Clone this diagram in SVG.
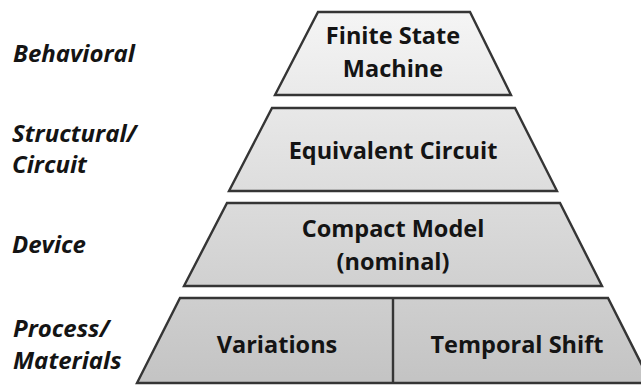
<svg xmlns="http://www.w3.org/2000/svg" width="641" height="386" viewBox="0 0 641 386">
  <defs>
    <linearGradient id="tierFill" gradientUnits="userSpaceOnUse" x1="0" y1="10" x2="0" y2="386">
      <stop offset="0" stop-color="#f5f5f5"/>
      <stop offset="1" stop-color="#c3c3c3"/>
    </linearGradient>
  </defs>
  <style>
    .tier { fill: url(#tierFill); stroke: #353535; stroke-width: 2.4; stroke-linejoin: miter; }
    .divider { stroke: #353535; stroke-width: 2.4; }
    .label { font-family: "Open Sans", "Liberation Sans", sans-serif; font-weight: bold; font-size: 23.5px; fill: #141414; text-anchor: middle; }
    .level { font-family: "Open Sans", "Liberation Sans", sans-serif; font-weight: bold; font-style: italic; font-size: 24px; fill: #141414; }
  </style>

  <rect width="641" height="386" fill="#ffffff"/>

  <!-- abstraction levels, left column -->
  <g id="levels">
    <text class="level" x="13" y="62">Behavioral</text>
    <text class="level" x="12" y="142">Structural/</text>
    <text class="level" x="12" y="173">Circuit</text>
    <text class="level" x="12" y="253">Device</text>
    <text class="level" x="13" y="337">Process/</text>
    <text class="level" x="13" y="369">Materials</text>
  </g>

  <!-- pyramid tiers, top to bottom -->
  <g id="finite-state-machine">
    <polygon class="tier" points="318,12 470,12 511,95 275,95"/>
    <text class="label" x="393" y="44">Finite State</text>
    <text class="label" x="393" y="77">Machine</text>
  </g>

  <g id="equivalent-circuit">
    <polygon class="tier" points="272,108 515,108 557,191 229,191"/>
    <text class="label" x="393" y="159">Equivalent Circuit</text>
  </g>

  <g id="compact-model">
    <polygon class="tier" points="227,203 560,203 602,286 184,286"/>
    <text class="label" x="393" y="237">Compact Model</text>
    <text class="label" x="393" y="270">(nominal)</text>
  </g>

  <g id="process-materials">
    <polygon class="tier" points="180,298 608,298 651,383 137,383"/>
    <line class="divider" x1="393" y1="298" x2="393" y2="383"/>
  </g>

  <g id="variations">
    <text class="label" x="277" y="353">Variations</text>
  </g>

  <g id="temporal-shift">
    <text class="label" x="517" y="353">Temporal Shift</text>
  </g>
</svg>
